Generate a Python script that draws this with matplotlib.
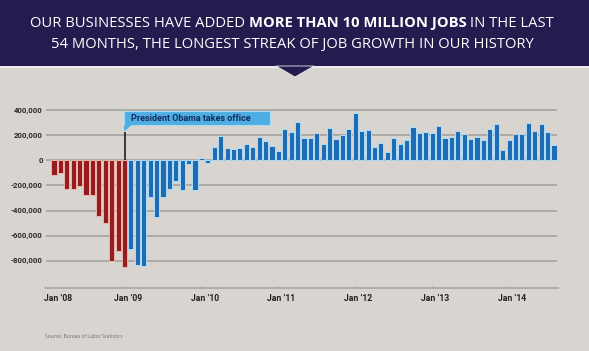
import numpy as np
import pandas as pd
import matplotlib
matplotlib.use("Agg")
import matplotlib.pyplot as plt
from matplotlib.patches import Rectangle, Polygon

# Monthly change in private-sector jobs, Feb 2008 - Aug 2014 (thousands)
months = pd.period_range("2008-02", "2014-08", freq="M")
jobs_k = [
    -116, -103, -231, -225, -204, -276, -276, -441, -497, -804, -721, -850,
    -708, -834, -842, -295, -455, -289, -225, -164, -236, -31, -236, 20,
    -23, 111, 196, 103, 95, 103, 129, 111, 191, 153, 116, 79,
    249, 228, 308, 177, 177, 223, 132, 260, 175, 201, 252, 377,
    233, 246, 111, 137, 71, 177, 132, 164, 271, 223, 228, 223,
    276, 177, 191, 239, 212, 169, 191, 164, 249, 289, 84, 164,
    212, 212, 303, 239, 289, 225, 124,
]
yticks = [400000, 200000, 0, -200000, -400000, -600000, -800000]
ytick_labels = ["400,000", "200,000", "0", "-200,000", "-400,000", "-600,000", "-800,000"]
xtick_labels = ["Jan \u201908", "Jan \u201909", "Jan \u201910", "Jan \u201911",
                "Jan \u201912", "Jan \u201913", "Jan \u201914"]
inauguration = pd.Period("2009-01", freq="M")

title_parts = [("OUR BUSINESSES HAVE ADDED ", "normal"),
               ("MORE THAN 10 MILLION JOBS", "bold"),
               (" IN THE LAST", "normal")]
title_line2 = "54 MONTHS, THE LONGEST STREAK OF JOB GROWTH IN OUR HISTORY"

BG = "#d8d5d1"
NAVY = "#241c4f"
RED = "#981b1e"
BLUE = "#1e6db4"
GRID = "#aaa6a1"

W, H = 589, 351
fig = plt.figure(figsize=(W / 100, H / 100), dpi=100, facecolor=BG)

# plot area
ax = fig.add_axes([40 / W, (H - 290) / H, 520 / W, 190 / H])
ax.set_facecolor("none")
ax.set_xlim(-2.184, 78.94)
ax.set_ylim(-1036000, 484000)
ax.axis("off")

x = np.arange(len(months))
values = np.array(jobs_k) * 1000

for v in yticks:
    ax.hlines(v, -1.25, 78.5, color=GRID, lw=1.3, zorder=1)
for v, lab in zip(yticks, ytick_labels):
    ax.text(-1.75, v, lab, ha="right", va="center", fontsize=5.6,
            fontweight="bold", family="Roboto", color="#2a2a2a")

colors = [RED if m <= inauguration else BLUE for m in months]
edges = ["#e9b7b0" if m <= inauguration else "#b2dcf5" for m in months]
ax.bar(x, values, width=0.8, color=colors, edgecolor=edges, linewidth=0.7, zorder=3)

# bottom axis with year ticks
ax.hlines(-1020000, -1.4, 78.8, color=GRID, lw=1.2, zorder=1)
tick_pos = [-1.4] + [months.get_loc(pd.Period(f"{y}-01", freq="M")) for y in range(2009, 2015)]
for i, (tp, lab) in enumerate(zip(tick_pos, xtick_labels)):
    ax.vlines(tp, -1020000, -1000000, color=GRID, lw=0.8)
    lx = 0.6 if i == 0 else tp + 0.5
    ax.text(lx, -1107000, lab, ha="center", va="center", fontsize=6.2,
            fontweight="bold", family="Roboto", color="#222222")

# inauguration annotation
xi = months.get_loc(inauguration)
ax.vlines(xi, 0, 225000, color="#111111", lw=1.1, zorder=4)
box_top, box_bot = 392000, 284000
ax.add_patch(Rectangle((xi - 0.05, box_bot), 33.75 - xi, box_top - box_bot,
                       facecolor="#4eaee4", edgecolor="#a9d9f3", lw=0.8, zorder=5))
ax.add_patch(Polygon([[xi - 0.05, box_bot], [xi + 1.1, box_bot], [xi - 0.05, 232000]],
                     closed=True, facecolor="#4eaee4", edgecolor="none", zorder=5))
ax.text(xi + 1.0, (box_top + box_bot) / 2, "President Obama takes office", ha="left",
        va="center", fontsize=6.5, fontweight="bold", family="Roboto",
        color="#152a5c", zorder=6)

# header banner
fig.patches.append(Rectangle((0, 1 - 66 / H), 1, 66 / H, transform=fig.transFigure,
                             facecolor=NAVY, edgecolor="none", zorder=0))
fig.patches.append(Rectangle((0, 1 - 67.5 / H), 1, 1.5 / H, transform=fig.transFigure,
                             facecolor="#eeebf0", edgecolor="none", zorder=0))
fig.patches.append(Polygon([[276 / W, 1 - 66 / H], [314 / W, 1 - 66 / H], [295 / W, 1 - 77 / H]],
                           closed=True, transform=fig.transFigure, facecolor=NAVY,
                           edgecolor="#eeebf0", lw=0.6, zorder=1))

renderer = fig.canvas.get_renderer()
fs = 11.0
tmp = [fig.text(0, 0, t, fontsize=fs, fontweight=w, family="Open Sans") for t, w in title_parts]
total = sum(t.get_window_extent(renderer).width for t in tmp)
for t in tmp:
    t.remove()
fs = fs * 522 / total

texts = [fig.text(0, 1 - 27 / H, t, fontsize=fs, fontweight=w, family="Open Sans",
                  color="white", va="baseline") for t, w in title_parts]
widths = [t.get_window_extent(renderer).width for t in texts]
xpos = 292 - sum(widths) / 2
for t, wdt in zip(texts, widths):
    t.set_x(xpos / W)
    xpos += wdt
fig.text(292 / W, 1 - 47.7 / H, title_line2, fontsize=fs, family="Open Sans",
         color="white", ha="center", va="baseline")

fig.text(45 / W, 1 - 337 / H, "Source: Bureau of Labor Statistics", fontsize=3.6,
         family="Open Sans", color="#6f6d6a", va="center")

fig.savefig("out.png", dpi=100, facecolor=BG)
